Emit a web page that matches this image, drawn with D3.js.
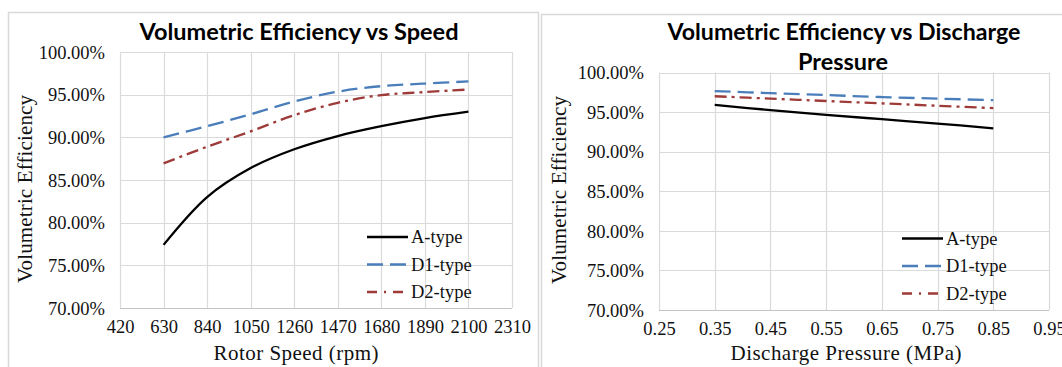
<!DOCTYPE html>
<html lang="en">
<head>
<meta charset="UTF-8">
<title>Volumetric Efficiency</title>
<style>
    body { margin: 0; background: #fff; }
    svg { display: block; }
    text.serif, .tick text { font-family: "Liberation Serif", "DejaVu Serif", serif !important; }
    .tick text { font-size: 18.5px; fill: #111; }
</style>
</head>
<body>
<svg id="chart" width="1062" height="367"></svg>
<script src="https://d3js.org/d3.v7.min.js"></script>
<script>
// values (efficiency in %)
var speedRpm = [630, 840, 1050, 1260, 1470, 1680, 1890, 2100];
var speedA  = [77.4, 83.0, 86.4, 88.6, 90.15, 91.3, 92.25, 93.0];
var speedD1 = [90.0, 91.3, 92.7, 94.2, 95.35, 96.0, 96.3, 96.55];
var speedD2 = [86.95, 88.9, 90.7, 92.6, 94.05, 94.95, 95.3, 95.6];

var pressureMPa = [0.35, 0.45, 0.55, 0.65, 0.75, 0.85];
var pressA  = [95.9, 95.25, 94.65, 94.1, 93.55, 92.95];
var pressD1 = [97.65, 97.4, 97.15, 96.9, 96.7, 96.5];
var pressD2 = [97.0, 96.7, 96.4, 96.1, 95.8, 95.5];

var speedTicks = [420, 630, 840, 1050, 1260, 1470, 1680, 1890, 2100, 2310];
var pressureTicks = [0.25, 0.35, 0.45, 0.55, 0.65, 0.75, 0.85, 0.95];
var effTicks = [70, 75, 80, 85, 90, 95, 100];
var seriesNames = ["A-type", "D1-type", "D2-type"];

// line look for each series
var seriesStyle = [
    { color: "#000000", dash: null, legendDash: null },
    { color: "#4a7ebb", dash: "16,7", legendDash: "16,7" },
    { color: "#9e3b39", dash: "12,5,3,5", legendDash: "10,7,2,7" }
];

var svg = d3.select("#chart");

function drawPanel(cfg) {
    var g = svg.append("g");

    // panel frame
    g.append("rect")
        .attr("x", cfg.frame[0] + 0.5).attr("y", cfg.frame[1] + 0.5)
        .attr("width", cfg.frame[2]).attr("height", cfg.frame[3])
        .attr("fill", "#fff").attr("stroke", "#d9d9d9").attr("stroke-width", 1.5);

    var x = d3.scaleLinear().domain(d3.extent(cfg.xTicks)).range([cfg.left, cfg.right]);
    var y = d3.scaleLinear().domain([70, 100]).range([cfg.bottom, cfg.top]);

    // grid
    g.append("g").selectAll("line.h").data(effTicks).join("line")
        .attr("x1", cfg.left).attr("x2", cfg.right)
        .attr("y1", function(d) { return Math.round(y(d)) + 0.5; })
        .attr("y2", function(d) { return Math.round(y(d)) + 0.5; })
        .attr("stroke", function(d) { return d == 70 ? "#c4c4c4" : "#dadada"; })
        .attr("stroke-width", 1.2);
    g.append("g").selectAll("line.v").data(cfg.xTicks).join("line")
        .attr("y1", cfg.top).attr("y2", cfg.bottom)
        .attr("x1", function(d) { return Math.round(x(d)) + 0.5; })
        .attr("x2", function(d) { return Math.round(x(d)) + 0.5; })
        .attr("stroke", "#dadada").attr("stroke-width", 1.2);

    // axes (labels only)
    var yAxis = d3.axisLeft(y).tickValues(effTicks).tickSize(0).tickPadding(15)
        .tickFormat(function(d) { return d.toFixed(2) + "%"; });
    g.append("g").attr("transform", "translate(" + cfg.left + ",0)").call(yAxis)
        .call(function(s) { s.select(".domain").remove(); })
        .selectAll("text").attr("dy", "0.34em");

    var xAxis = d3.axisBottom(x).tickValues(cfg.xTicks).tickSize(0).tickPadding(12)
        .tickFormat(cfg.xFormat);
    g.append("g").attr("transform", "translate(0," + cfg.bottom + ")").call(xAxis)
        .call(function(s) { s.select(".domain").remove(); });

    // series
    var line = d3.line()
        .x(function(d) { return x(d[0]); })
        .y(function(d) { return y(d[1]); })
        .curve(d3.curveCatmullRom.alpha(0.5));

    cfg.series.forEach(function(vals, i) {
        var pts = cfg.xs.map(function(v, j) { return [v, vals[j]]; });
        g.append("path").datum(pts)
            .attr("d", line)
            .attr("fill", "none")
            .attr("stroke", seriesStyle[i].color)
            .attr("stroke-width", 2.3)
            .attr("stroke-dasharray", seriesStyle[i].dash);
    });

    // legend
    var lg = g.append("g").attr("transform", "translate(" + cfg.legend[0] + "," + cfg.legend[1] + ")");
    seriesNames.forEach(function(name, i) {
        var row = lg.append("g").attr("transform", "translate(0," + (i * 27.5) + ")");
        row.append("line").attr("x1", 0).attr("x2", 41).attr("y1", 0).attr("y2", 0)
            .attr("stroke", seriesStyle[i].color).attr("stroke-width", 2.3)
            .attr("stroke-dasharray", seriesStyle[i].legendDash);
        row.append("text").attr("class", "serif").attr("x", 44).attr("y", 6)
            .attr("font-size", "18.5px").attr("fill", "#111")
            .text(name);
    });

    // title
    cfg.title.forEach(function(t) {
        g.append("text")
            .attr("x", t.x).attr("y", t.y)
            .attr("text-anchor", "middle")
            .attr("font-family", "Lato, 'Open Sans', sans-serif")
            .attr("font-weight", "bold")
            .attr("font-size", "22.5px")
            .attr("textLength", t.w).attr("lengthAdjust", "spacingAndGlyphs")
            .attr("fill", "#000")
            .text(t.text);
    });

    // axis titles
    g.append("text").attr("class", "serif")
        .attr("x", cfg.xTitle.x).attr("y", 360)
        .attr("text-anchor", "middle")
        .attr("font-size", "21px").attr("fill", "#111")
        .attr("textLength", cfg.xTitle.w).attr("lengthAdjust", "spacing")
        .text(cfg.xTitle.text);

    g.append("text").attr("class", "serif")
        .attr("transform", "translate(" + cfg.yTitleX + "," + cfg.yTitleY + ") rotate(-90)")
        .attr("text-anchor", "middle")
        .attr("font-size", "21px").attr("fill", "#111")
        .attr("textLength", 188).attr("lengthAdjust", "spacing")
        .text("Volumetric Efficiency");
}

drawPanel({
    frame: [8, 12, 530, 370],
    left: 120, right: 512, top: 52, bottom: 308,
    xTicks: speedTicks, xs: speedRpm,
    xFormat: function(d) { return d; },
    series: [speedA, speedD1, speedD2],
    legend: [367, 237],
    title: [{ text: "Volumetric Efficiency vs Speed", x: 299, y: 40, w: 319 }],
    xTitle: { text: "Rotor Speed (rpm)", x: 296, w: 165 },
    yTitleX: 32, yTitleY: 189
});

drawPanel({
    frame: [541, 14, 540, 370],
    left: 659, right: 1049, top: 72.5, bottom: 310,
    xTicks: pressureTicks, xs: pressureMPa,
    xFormat: function(d) { return d.toFixed(2); },
    series: [pressA, pressD1, pressD2],
    legend: [902, 238.5],
    title: [
        { text: "Volumetric Efficiency vs Discharge", x: 844, y: 40, w: 353 },
        { text: "Pressure", x: 843, y: 70, w: 90 }
    ],
    xTitle: { text: "Discharge Pressure (MPa)", x: 846, w: 231 },
    yTitleX: 566, yTitleY: 190
});
</script>
</body>
</html>
